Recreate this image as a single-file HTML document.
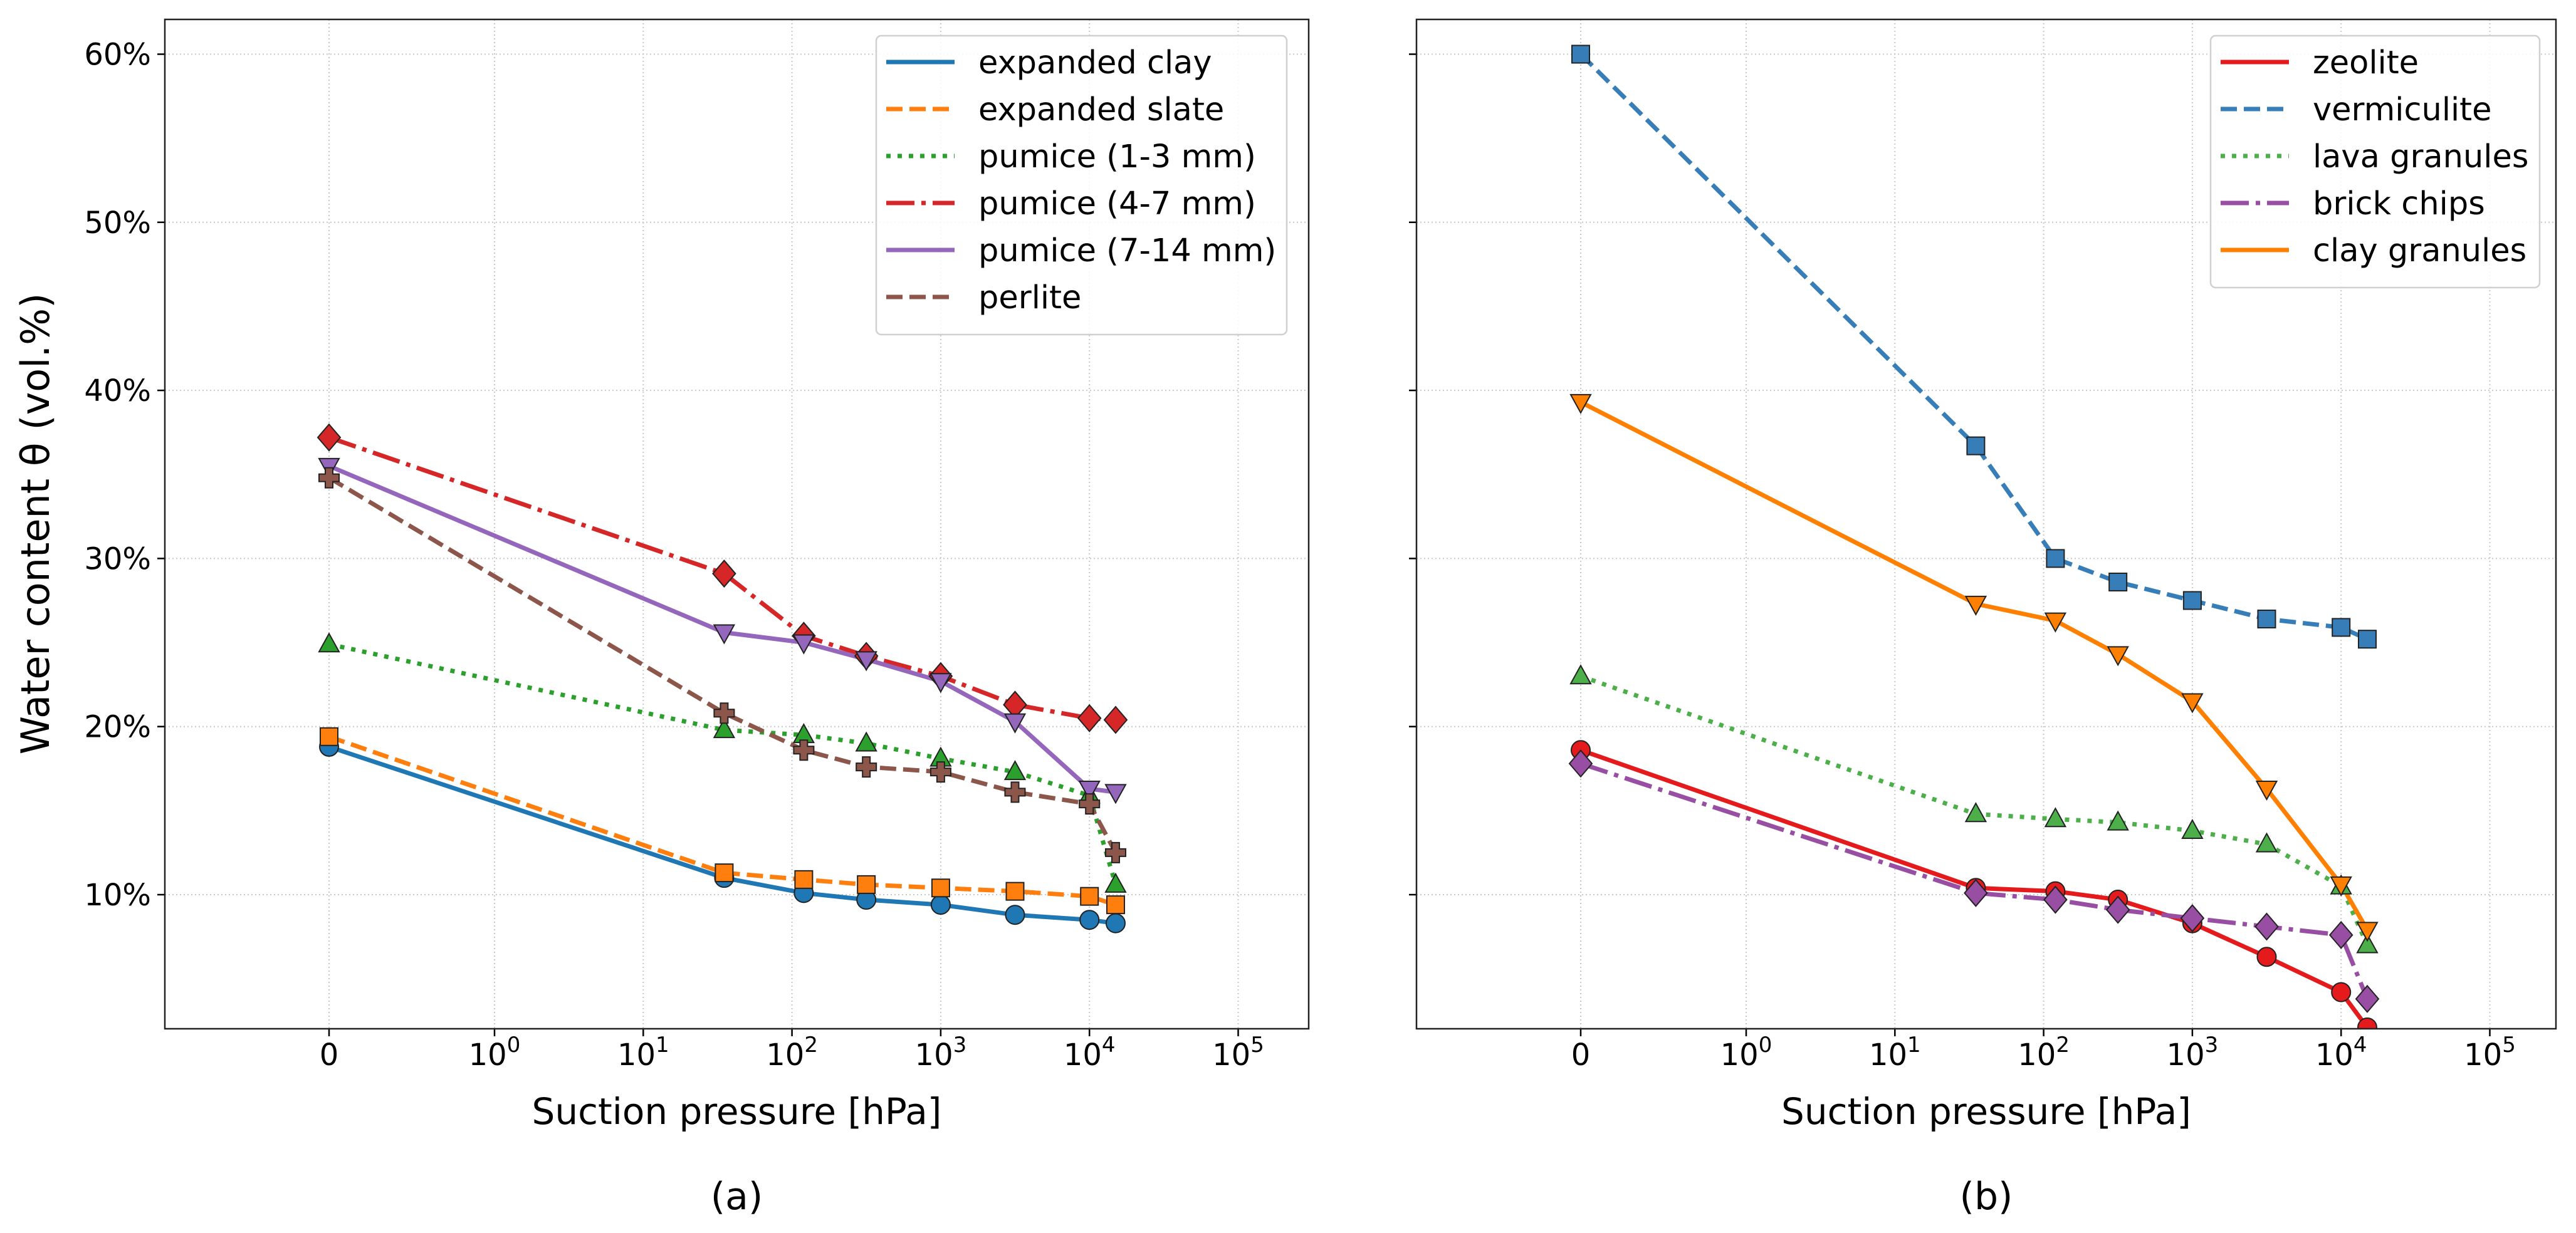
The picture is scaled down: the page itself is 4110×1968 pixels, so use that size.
<!DOCTYPE html>
<html><head><meta charset="utf-8">
<style>
html,body{margin:0;padding:0;background:#fff;}
svg{display:block;font-family:"DejaVu Sans","Liberation Sans",sans-serif;}
</style></head>
<body>
<svg id="chart" width="4110" height="1968" viewBox="0 0 4110 1968" xmlns="http://www.w3.org/2000/svg">
<rect width="4110" height="1968" fill="#fff"/>
</svg>
<script>
// ---- data ----
const suction = [0, 35, 120, 316, 1000, 3160, 10000, 15000];
const xTickLabels = ["0", "10^0", "10^1", "10^2", "10^3", "10^4", "10^5"];
const xTickValues = [0, 1, 10, 100, 1000, 10000, 100000];
const yTickValues = [10, 20, 30, 40, 50, 60];
const yTickLabels = ["10%", "20%", "30%", "40%", "50%", "60%"];

const expandedClay = [18.8, 11.0, 10.1, 9.7, 9.4, 8.8, 8.5, 8.3];
const expandedSlate = [19.4, 11.3, 10.9, 10.6, 10.4, 10.2, 9.9, 9.4];
const pumice13 = [24.9, 19.8, 19.5, 19.0, 18.1, 17.3, 15.9, 10.6];
const pumice47 = [37.2, 29.1, 25.4, 24.2, 23.0, 21.3, 20.5, 20.4];
const pumice714 = [35.5, 25.6, 25.0, 24.0, 22.7, 20.3, 16.3, 16.1];
const perlite = [34.8, 20.8, 18.6, 17.6, 17.3, 16.1, 15.4, 12.5];

const zeolite = [18.6, 10.4, 10.2, 9.7, 8.3, 6.3, 4.2, 2.1];
const vermiculite = [60.0, 36.7, 30.0, 28.6, 27.5, 26.4, 25.9, 25.2];
const lavaGranules = [23.0, 14.8, 14.5, 14.3, 13.8, 13.0, 10.5, 7.0];
const brickChips = [17.8, 10.1, 9.7, 9.1, 8.6, 8.1, 7.6, 3.8];
const clayGranules = [39.3, 27.3, 26.3, 24.3, 21.5, 16.3, 10.6, 7.9];

const seriesA = [
  {name:"expanded clay", key:"expanded-clay", vals:expandedClay, color:"#1f77b4", dash:"", marker:"circle"},
  {name:"expanded slate", key:"expanded-slate", vals:expandedSlate, color:"#ff7f0e", dash:"26 11", marker:"square"},
  {name:"pumice (1-3 mm)", key:"pumice-1-3", vals:pumice13, color:"#2ca02c", dash:"7 11", marker:"up"},
  {name:"pumice (4-7 mm)", key:"pumice-4-7", vals:pumice47, color:"#d62728", dash:"45 11 7 11", marker:"diamond"},
  {name:"pumice (7-14 mm)", key:"pumice-7-14", vals:pumice714, color:"#9467bd", dash:"", marker:"down"},
  {name:"perlite", key:"perlite", vals:perlite, color:"#8c564b", dash:"26 11", marker:"plus"}
];
const seriesB = [
  {name:"zeolite", key:"zeolite", vals:zeolite, color:"#e41a1c", dash:"", marker:"circle"},
  {name:"vermiculite", key:"vermiculite", vals:vermiculite, color:"#377eb8", dash:"26 11", marker:"square"},
  {name:"lava granules", key:"lava-granules", vals:lavaGranules, color:"#4daf4a", dash:"7 11", marker:"up"},
  {name:"brick chips", key:"brick-chips", vals:brickChips, color:"#984ea3", dash:"45 11 7 11", marker:"diamond"},
  {name:"clay granules", key:"clay-granules", vals:clayGranules, color:"#ff7f00", dash:"", marker:"down"}
];

const NS = "http://www.w3.org/2000/svg";
const svg = document.getElementById("chart");
function mk(tag, attrs, parent){
  const e = document.createElementNS(NS, tag);
  for (const k in attrs) e.setAttribute(k, attrs[k]);
  (parent||svg).appendChild(e);
  return e;
}

const Y10 = 1428, YPER = 26.83;
function yScale(v){ return Y10 - (v - 10) * YPER; }
function makeX(off){
  const x0 = 525 + off, x1 = 789 + off, dec = 237.3;
  return function(v){ return v <= 0 ? x0 : x1 + Math.log10(v) * dec; };
}

function marker(g, type, cx, cy, color){
  let e;
  const st = {fill:color, stroke:"#222", "stroke-width":"2"};
  if (type === "circle") e = mk("circle", Object.assign({cx:cx, cy:cy, r:15}, st), g);
  else if (type === "square") e = mk("rect", Object.assign({x:cx-14, y:cy-14, width:28, height:28}, st), g);
  else if (type === "diamond") e = mk("polygon", Object.assign({points:`${cx},${cy-21} ${cx+18},${cy} ${cx},${cy+21} ${cx-18},${cy}`}, st), g);
  else if (type === "up") e = mk("polygon", Object.assign({points:`${cx},${cy-17} ${cx+16},${cy+12} ${cx-16},${cy+12}`}, st), g);
  else if (type === "down") e = mk("polygon", Object.assign({points:`${cx},${cy+17} ${cx+16},${cy-12} ${cx-16},${cy-12}`}, st), g);
  else if (type === "plus") {
    const a = 16, b = 6;
    e = mk("polygon", Object.assign({points:`${cx-b},${cy-a} ${cx+b},${cy-a} ${cx+b},${cy-b} ${cx+a},${cy-b} ${cx+a},${cy+b} ${cx+b},${cy+b} ${cx+b},${cy+a} ${cx-b},${cy+a} ${cx-b},${cy+b} ${cx-a},${cy+b} ${cx-a},${cy-b} ${cx-b},${cy-b}`}, st), g);
  }
  return e;
}

function drawPanel(off, series, panelName, showYLabels, legendBox, caption){
  const L = 263 + off, R = 2088 + off - (off ? 7 : 0), T = 31, B = 1642;
  const xs = makeX(off);
  const g = mk("g", {});
  
  
  const cid = "clip-" + panelName;
  const cp = mk("clipPath", {id:cid}, g);
  mk("rect", {x:L, y:T, width:R-L, height:B-T}, cp);

  const grid = mk("g", {stroke:"#c8c8c8", "stroke-width":"2", "stroke-dasharray":"2 4"}, g);
  
  
  xTickValues.forEach(v => mk("line", {x1:xs(v), x2:xs(v), y1:T, y2:B}, grid));
  yTickValues.forEach(v => mk("line", {x1:L, x2:R, y1:yScale(v), y2:yScale(v)}, grid));

  xTickValues.forEach((v, i) => {
    const x = xs(v);
    mk("line", {x1:x, x2:x, y1:B, y2:B+12, stroke:"#000", "stroke-width":"2.5"}, g);
    const t = mk("text", {x:x, y:1700, "font-size":"48", "text-anchor":"middle", fill:"#000"}, g);
    
    
    const lab = xTickLabels[i];
    if (lab.indexOf("^") >= 0) {
      const p = lab.split("^");
      const s1 = mk("tspan", {}, t); s1.textContent = p[0];
      const s2 = mk("tspan", {dy:"-21", "font-size":"34"}, t); s2.textContent = p[1];
    } else t.textContent = lab;
  });
  yTickValues.forEach((v, i) => {
    const y = yScale(v);
    mk("line", {x1:L-12, x2:L, y1:y, y2:y, stroke:"#000", "stroke-width":"2.5"}, g);
    if (showYLabels) {
      const t = mk("text", {x:L-22, y:y+17, "font-size":"48", "text-anchor":"end", fill:"#000"}, g);
      
      
      t.textContent = yTickLabels[i];
    }
  });

  const plot = mk("g", {"clip-path":`url(#${cid})`}, g);
  series.forEach(s => {
    const sg = mk("g", {}, plot);
    
    
    const pts = s.vals.map((v, i) => xs(suction[i]).toFixed(1) + "," + yScale(v).toFixed(1)).join(" ");
    const pl = mk("polyline", {points:pts, fill:"none", stroke:s.color, "stroke-width":"7", "stroke-linejoin":"round"}, sg);
    if (s.dash) pl.setAttribute("stroke-dasharray", s.dash);
    
    
  });
  series.forEach(s => {
    const mg = mk("g", {}, plot);
    
    
    s.vals.forEach((v, i) => {
      const m = marker(mg, s.marker, xs(suction[i]), yScale(v), s.color);
      
      
    });
  });

  const fr = mk("rect", {x:L, y:T, width:R-L, height:B-T, fill:"none", stroke:"#222", "stroke-width":"2.5"}, g);
  
  

  const lg = mk("g", {}, g);
  
  
  mk("rect", {x:legendBox.x, y:57, width:legendBox.w, height:27 + series.length*75, rx:8, fill:"#fff", "fill-opacity":"0.85", stroke:"#d0d0d0", "stroke-width":"2.5"}, lg);
  series.forEach((s, i) => {
    const cy = 99 + i*75;
    const e = mk("g", {}, lg);
    
    
    const ln = mk("line", {x1:legendBox.x+16, x2:legendBox.x+125, y1:cy, y2:cy, stroke:s.color, "stroke-width":"7"}, e);
    if (s.dash) ln.setAttribute("stroke-dasharray", s.dash);
    const t = mk("text", {x:legendBox.x+163, y:cy+18, "font-size":"51", fill:"#000"}, e);
    t.textContent = s.name;
  });

  const cx = (L + R) / 2;
  const xt = mk("text", {x:cx, y:1794, "font-size":"58", "text-anchor":"middle", fill:"#000"}, g);
  
  
  xt.textContent = "Suction pressure [hPa]";
  const cap = mk("text", {x:cx, y:1930, "font-size":"60", "text-anchor":"middle", fill:"#000"}, g);
  
  
  cap.textContent = caption;
}

drawPanel(0, seriesA, "panel-a", true, {x:1398, w:655}, "(a)");
drawPanel(1997, seriesB, "panel-b", false, {x:3527, w:525}, "(b)");

const yl = mk("text", {x:0, y:0, "font-size":"62", "text-anchor":"middle", fill:"#000", transform:"translate(78,836) rotate(-90)"});


yl.textContent = "Water content θ (vol.%)";
</script>
</body></html>
